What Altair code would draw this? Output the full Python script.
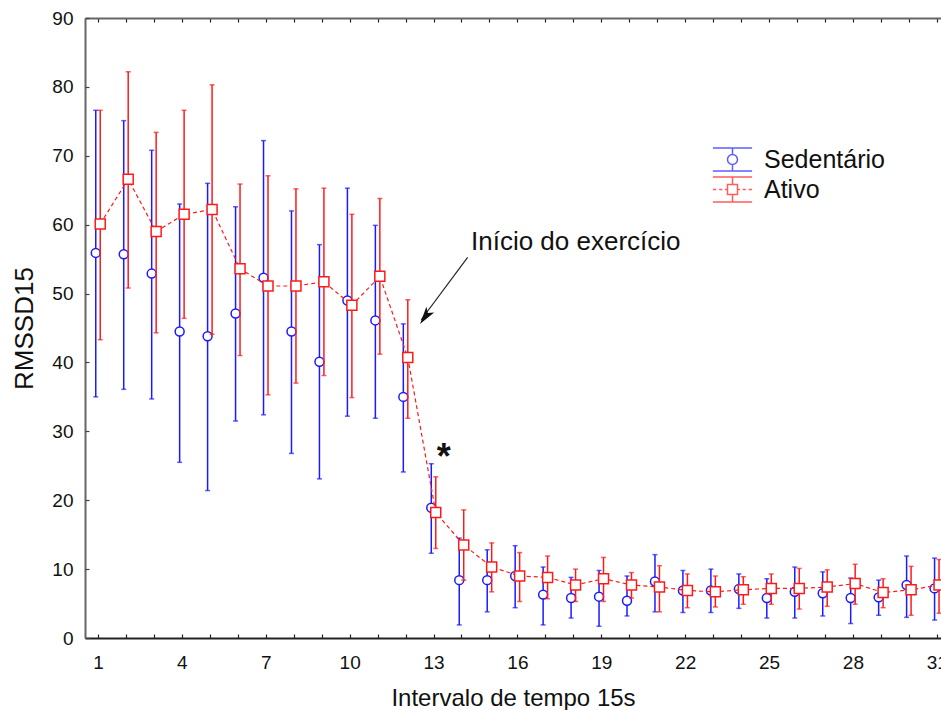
import altair as alt
import pandas as pd

# ---------------- data ----------------
intervalo = list(range(1, 32))

sed_mean = [55.9, 55.7, 52.9, 44.5, 43.8, 47.1, 52.3, 44.5, 40.1, 49.0, 46.1, 35.0, 18.9, 8.4, 8.4, 9.0,
            6.3, 5.8, 6.0, 5.4, 8.2, 6.9, 6.9, 7.1, 5.8, 6.7, 6.5, 5.8, 5.9, 7.7, 7.2]
sed_lo = [35.0, 36.1, 34.7, 25.5, 21.4, 31.5, 32.4, 26.8, 23.1, 32.2, 31.9, 24.1, 12.3, 1.9, 3.8, 4.4,
          1.9, 2.9, 1.7, 3.2, 3.8, 3.7, 3.7, 4.3, 2.9, 2.9, 3.2, 2.1, 3.3, 3.0, 2.6]
sed_hi = [76.6, 75.1, 70.8, 63.0, 66.0, 62.6, 72.2, 62.0, 57.1, 65.3, 59.9, 45.6, 25.3, 14.5, 12.8, 13.4,
          10.3, 8.8, 9.8, 9.0, 12.1, 9.8, 10.0, 9.3, 8.6, 10.3, 9.6, 8.7, 8.4, 11.9, 11.6]

ati_mean = [60.1, 66.6, 59.0, 61.5, 62.2, 53.6, 51.1, 51.1, 51.7, 48.3, 52.5, 40.7, 18.2, 13.5, 10.3, 9.0,
            8.8, 7.7, 8.6, 7.7, 7.4, 6.9, 6.7, 7.0, 7.2, 7.2, 7.4, 7.9, 6.6, 7.0, 7.7]
ati_lo = [43.3, 50.8, 44.3, 46.4, 44.1, 41.0, 35.3, 37.0, 38.1, 34.9, 41.2, 31.9, 13.0, 8.4, 6.7, 5.3,
          5.7, 5.3, 5.3, 5.8, 3.8, 4.4, 4.5, 4.9, 4.9, 4.2, 4.6, 4.9, 4.4, 3.3, 3.6]
ati_hi = [76.6, 82.2, 73.4, 76.6, 80.3, 65.9, 67.1, 65.2, 65.3, 61.5, 63.8, 49.1, 23.4, 18.6, 13.8, 12.4,
          11.9, 10.0, 11.7, 9.5, 10.5, 9.3, 9.0, 8.9, 9.3, 10.1, 9.9, 10.7, 8.6, 10.4, 11.4]

series_names = ["Sedentário", "Ativo"]
x_ticks_major = [1, 4, 7, 10, 13, 16, 19, 22, 25, 28, 31]
y_ticks = [0, 10, 20, 30, 40, 50, 60, 70, 80, 90]

annotation_text = ["Início do exercício"]
asterisk_text = ["*"]

# ---------------- layout constants ----------------
W, H = 856, 620
BLUE = "#1a1aff"
RED = "#ff1a1a"
FONT = "Liberation Sans"
OFFSET = 0.08  # horizontal dodge of the two groups

sed = pd.DataFrame({"t": intervalo, "mean": sed_mean, "lo": sed_lo, "hi": sed_hi})
ati = pd.DataFrame({"t": intervalo, "mean": ati_mean, "lo": ati_lo, "hi": ati_hi})

xscale = alt.Scale(domain=[0.535, 31.15], nice=False, zero=False)
yscale = alt.Scale(domain=[0, 90], nice=False, zero=True)

# axes
ax_x_main = alt.Axis(orient="bottom", values=x_ticks_major, ticks=False, labelPadding=15,
                     domainColor="#222222", domainWidth=2, labelFontSize=19, labelFont=FONT,
                     labelColor="#111111", title="Intervalo de tempo 15s", titleFont=FONT,
                     titleFontSize=24, titleFontWeight="normal", titleColor="#111111",
                     titlePadding=14, grid=False, labelFlush=False)
ax_y_main = alt.Axis(orient="left", values=y_ticks, ticks=False, labelPadding=12,
                     domainColor="#666666", domainWidth=2, labelFontSize=19, labelFont=FONT,
                     labelColor="#111111", title="RMSSD15", titleFont=FONT, titleFontSize=26,
                     titleFontWeight="normal", titleColor="#111111", titlePadding=14, grid=False)
ax_x_inner_ticks = alt.Axis(orient="top", offset=-H, values=intervalo, labels=False, domain=False,
                            ticks=True, tickSize=4, tickColor="#222222", tickWidth=1.2,
                            title=None, grid=False)
ax_y_inner_ticks = alt.Axis(orient="right", offset=-W, values=y_ticks, labels=False, domain=False,
                            ticks=True, tickSize=4, tickColor="#444444", tickWidth=1.2,
                            title=None, grid=False)
ax_x_top_frame = alt.Axis(orient="bottom", offset=-H, values=intervalo, labels=False, domain=True,
                          domainColor="#666666", domainWidth=2, ticks=True, tickSize=4,
                          tickColor="#222222", tickWidth=1.2, title=None, grid=False)


def X(field, axis=None):
    return alt.X(f"{field}:Q", scale=xscale, axis=axis)


def Y(field, axis=None):
    return alt.Y(f"{field}:Q", scale=yscale, axis=axis)


def group_layers(df, color, off, shape, size, first=False):
    base = alt.Chart(df).transform_calculate(xp=f"datum.t + ({off})")
    rules = base.mark_rule(color=color, strokeWidth=1.5).encode(
        x=X("xp", ax_x_main if first else None),
        y=Y("lo", ax_y_main if first else None),
        y2="hi:Q",
    )
    caps = base.transform_fold(["lo", "hi"], as_=["k", "v"]).mark_tick(
        color=color, orient="horizontal", size=5, thickness=1.5
    ).encode(x=X("xp"), y=Y("v"))
    pts = base.mark_point(shape=shape, size=size, filled=True, fill="white", stroke=color,
                          strokeWidth=1.5, opacity=1).encode(
        x=X("xp", ax_x_inner_ticks if first else None),
        y=Y("mean", ax_y_inner_ticks if first else None),
    )
    return rules, caps, pts


s_rules, s_caps, s_pts = group_layers(sed, BLUE, -OFFSET, "circle", 80, first=True)
a_rules, a_caps, a_pts = group_layers(ati, RED, OFFSET, "square", 100)

a_line = alt.Chart(ati).transform_calculate(xp=f"datum.t + ({OFFSET})").mark_line(
    color=RED, strokeWidth=1.2, strokeDash=[4, 3]
).encode(x=X("xp", ax_x_top_frame), y=Y("mean"))

# legend glyph layer (no visible marks, only feeds the legend)
sed_glyph = ("M-1.35,-0.79H1.35M-1.35,0.79H1.35M0,-0.79V-0.345M0,0.345V0.79"
             "M0.345,0A0.345,0.345,0,1,1,-0.345,0A0.345,0.345,0,1,1,0.345,0Z")
ati_glyph = ("M-1.35,-0.86H1.35M-1.35,0.86H1.35M0,-0.86V-0.345M0,0.345V0.86"
             "M-0.345,-0.345H0.345V0.345H-0.345Z"
             "M-1.35,0H-1.12M-0.92,0H-0.7M-0.52,0H-0.345M0.345,0H0.52M0.7,0H0.92M1.12,0H1.35")
leg_df = pd.DataFrame({"serie": series_names, "t": [1, 1], "mean": [0, 0]})
leg_props = dict(title=None, orient="none", legendX=632, legendY=126,
                 symbolSize=841, symbolStrokeWidth=1.5, labelFont=FONT,
                 labelFontSize=25, labelColor="#111111", labelOffset=16,
                 rowPadding=0, padding=0)
legend = alt.Chart(leg_df).transform_filter("datum.mean > 1000").mark_point(
    filled=False, strokeWidth=1.5
).encode(
    x=X("t"), y=Y("mean"),
    color=alt.Color("serie:N", scale=alt.Scale(domain=series_names, range=[BLUE, RED]),
                    legend=alt.Legend(**leg_props)),
    shape=alt.Shape("serie:N", scale=alt.Scale(domain=series_names, range=[sed_glyph, ati_glyph]),
                    legend=alt.Legend(**leg_props)),
)

# annotations (anchored in data units)
ann = alt.Chart(pd.DataFrame({"txt": annotation_text, "x": [14.34], "y": [56.3]})).mark_text(
    align="left", baseline="alphabetic", font=FONT, fontSize=26, color="#111111"
).encode(x=X("x"), y=Y("y"), text="txt:N")

star = alt.Chart(pd.DataFrame({"txt": asterisk_text, "x": [13.37], "y": [24.6]})).mark_text(
    align="center", baseline="alphabetic", font=FONT, fontSize=36, fontWeight="bold", color="#111111"
).encode(x=X("x"), y=Y("y"), text="txt:N")

arrow_df = pd.DataFrame({"x": [14.22], "y": [55.26], "x2": [12.56], "y2": [46.2]})
arrow_line = alt.Chart(arrow_df).mark_rule(color="#222222", strokeWidth=1.2).encode(
    x=X("x"), y=Y("y"), x2="x2:Q", y2="y2:Q")
head_df = pd.DataFrame({"x": [12.516], "y": [45.58]})
arrow_head = alt.Chart(head_df).mark_point(
    shape="M0,0L-0.34,1.25L0,0.95L0.34,1.25Z", size=800, filled=True, color="#111111",
    angle=215.6, opacity=1
).encode(x=X("x"), y=Y("y"))

chart = alt.layer(
    s_rules, s_caps, s_pts,
    a_line, a_rules, a_caps, a_pts,
    legend, ann, star, arrow_line, arrow_head,
).resolve_axis(x="independent", y="independent").properties(
    width=W, height=H,
    autosize=alt.AutoSizeParams(type="none"),
    padding={"left": 85, "top": 18, "right": 0, "bottom": 72},
).configure_view(stroke=None, clip=False).configure(background="white")

chart.save("out.html", embed_options={"renderer": "svg", "actions": False})
